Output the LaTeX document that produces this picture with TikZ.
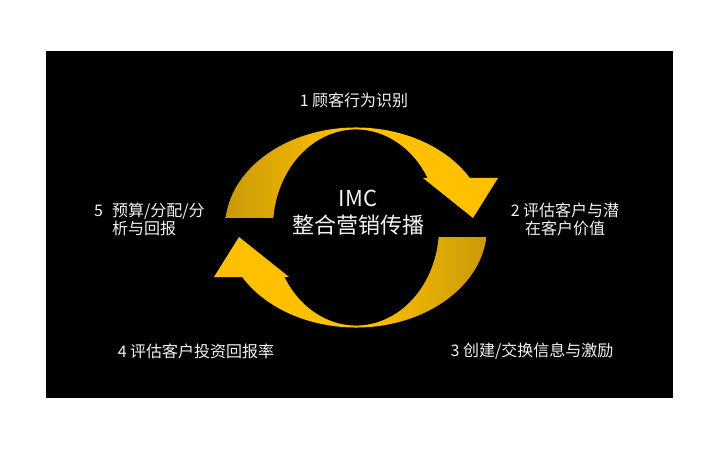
\documentclass[tikz,border=0pt]{standalone}
\usepackage{fontspec}
\newfontfamily\cjk{Noto Sans CJK SC}
\definecolor{darkgold}{HTML}{C99A08}
\definecolor{brightgold}{HTML}{FFC000}
\definecolor{labelwhite}{HTML}{F2F2F2}
\pgfdeclarehorizontalshading{goldsweep}{100bp}{color(0bp)=(darkgold); color(25bp)=(darkgold); color(47bp)=(brightgold); color(100bp)=(brightgold)}
\tikzset{
	steplabel/.style={text=labelwhite, font=\cjk\fontsize{16}{18}\selectfont, inner sep=0pt},
	hubtext/.style={text=labelwhite, font=\cjk\fontsize{22}{27}\selectfont, align=center, inner sep=0pt},
	loopband/.style={shading=goldsweep, draw=none},
}

\begin{document}
\begin{tikzpicture}[x=1pt,y=1pt]
		\fill[white] (0,0) rectangle (720,450);
		\fill[black] (46,52) rectangle (673,399);
		\useasboundingbox (0,0) rectangle (720,450);
		\coordinate (c) at (356,222.5);
		\begin{scope}[shift={(c)}]
			% upper half arrow
			\shade[loopband] (-130.4,9.6) arc[start angle=174.5, end angle=29.7, x radius=131, y radius=100]
			-- (142,49.5) -- (117,9.5) -- (67,49.5) -- (71.6,49.5)
			arc[start angle=30.3, end angle=174.4, x radius=83, y radius=98] -- cycle;
			% lower half arrow
			\shade[loopband, shading angle=180] (130.4,-9.6) arc[start angle=-5.5, end angle=-150.3, x radius=131, y radius=100]
			-- (-142,-49.5) -- (-117,-9.5) -- (-67,-49.5) -- (-71.6,-49.5)
			arc[start angle=-149.7, end angle=-5.6, x radius=83, y radius=98] -- cycle;
		\end{scope}
		\node[hubtext] (imc) at (358,237) {IMC\\整合营销传播};
		\node[steplabel] (s1) at (354,350) {1 顾客行为识别};
		\node[steplabel, align=center] (s2) at (565,231) {2 评估客户与潜\\在客户价值};
		\node[steplabel] (s3) at (532,99) {3 创建/交换信息与激励};
		\node[steplabel] (s4) at (196,99) {4 评估客户投资回报率};
		\node[steplabel, align=left, anchor=west] (s5) at (94,231) {5\hspace{9pt}预算/分配/分\\\phantom{5}\hspace{9pt}析与回报};
	\end{tikzpicture}
\end{document}
